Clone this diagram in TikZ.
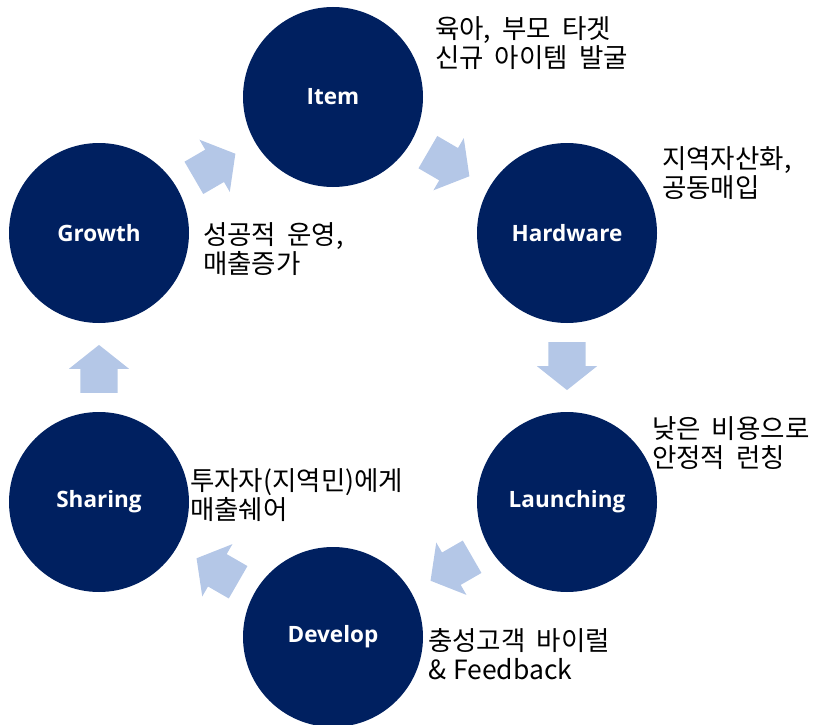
\documentclass[tikz,border=0pt]{standalone}
\usepackage{fontspec}
\setmainfont{Noto Sans CJK KR}
\newfontfamily\labelfont{Open Sans}
\usetikzlibrary{shapes.arrows}
\definecolor{color1}{RGB}{0,32,96}
\definecolor{color2}{RGB}{180,199,231}
\newcommand\notefont{\fontsize{26.5}{29}\selectfont\spaceskip=11pt plus 1pt\relax}

\begin{document}
\begin{tikzpicture}[x=1pt,y=-1pt,
    stage/.style={circle,fill=color1,minimum size=180pt,inner sep=0pt,text=white,
        font=\labelfont\bfseries\fontsize{22.5}{27}\selectfont},
    note/.style={anchor=west,align=left,inner sep=0pt,font=\notefont},
    flow/.style={single arrow,fill=color2,draw=none,minimum height=48pt,
        inner xsep=0pt,inner ysep=18.5pt,text width=0pt,text height=0pt,text depth=0pt,
        single arrow head extend=11.5pt,single arrow tip angle=103,
        pos=0.4,sloped,allow upside down}]
            \useasboundingbox (0,0) rectangle (817,725);
            % stages
            \node[stage] (item) at (333,97) {Item};
            \node[stage] (hardware) at (567,233) {Hardware};
            \node[stage] (launching) at (567,502) {Launching};
            \node[stage] (develop) at (333,637) {Develop};
            \node[stage] (sharing) at (99,502) {Sharing};
            \node[stage] (growth) at (99,233) {Growth};
            % arrows
            \path (growth) -- (item) node[flow] (a1) {};
            \path (item) -- (hardware) node[flow] (a2) {};
            \path (hardware) -- (launching) node[flow] (a3) {};
            \path (launching) -- (develop) node[flow] (a4) {};
            \path (develop) -- (sharing) node[flow] (a5) {};
            \path (sharing) -- (growth) node[flow] (a6) {};
            % notes
            \node[note] (itemnote) at (435,43) {육아, 부모 타겟\\신규 아이템 발굴};
            \node[note] (hardwarenote) at (662,173.5) {지역자산화,\\공동매입};
            \node[note] (growthnote) at (203,249) {성공적 운영,\\매출증가};
            \node[note] (launchingnote) at (652,443) {낮은 비용으로\\안정적 런칭};
            \node[note] (sharingnote) at (190,495) {투자자(지역민)에게\\매출쉐어};
            \node[note] (developnote) at (428,654) {충성고객 바이럴\\{\spaceskip=7pt\& Feedback}};
		\end{tikzpicture}
\end{document}
